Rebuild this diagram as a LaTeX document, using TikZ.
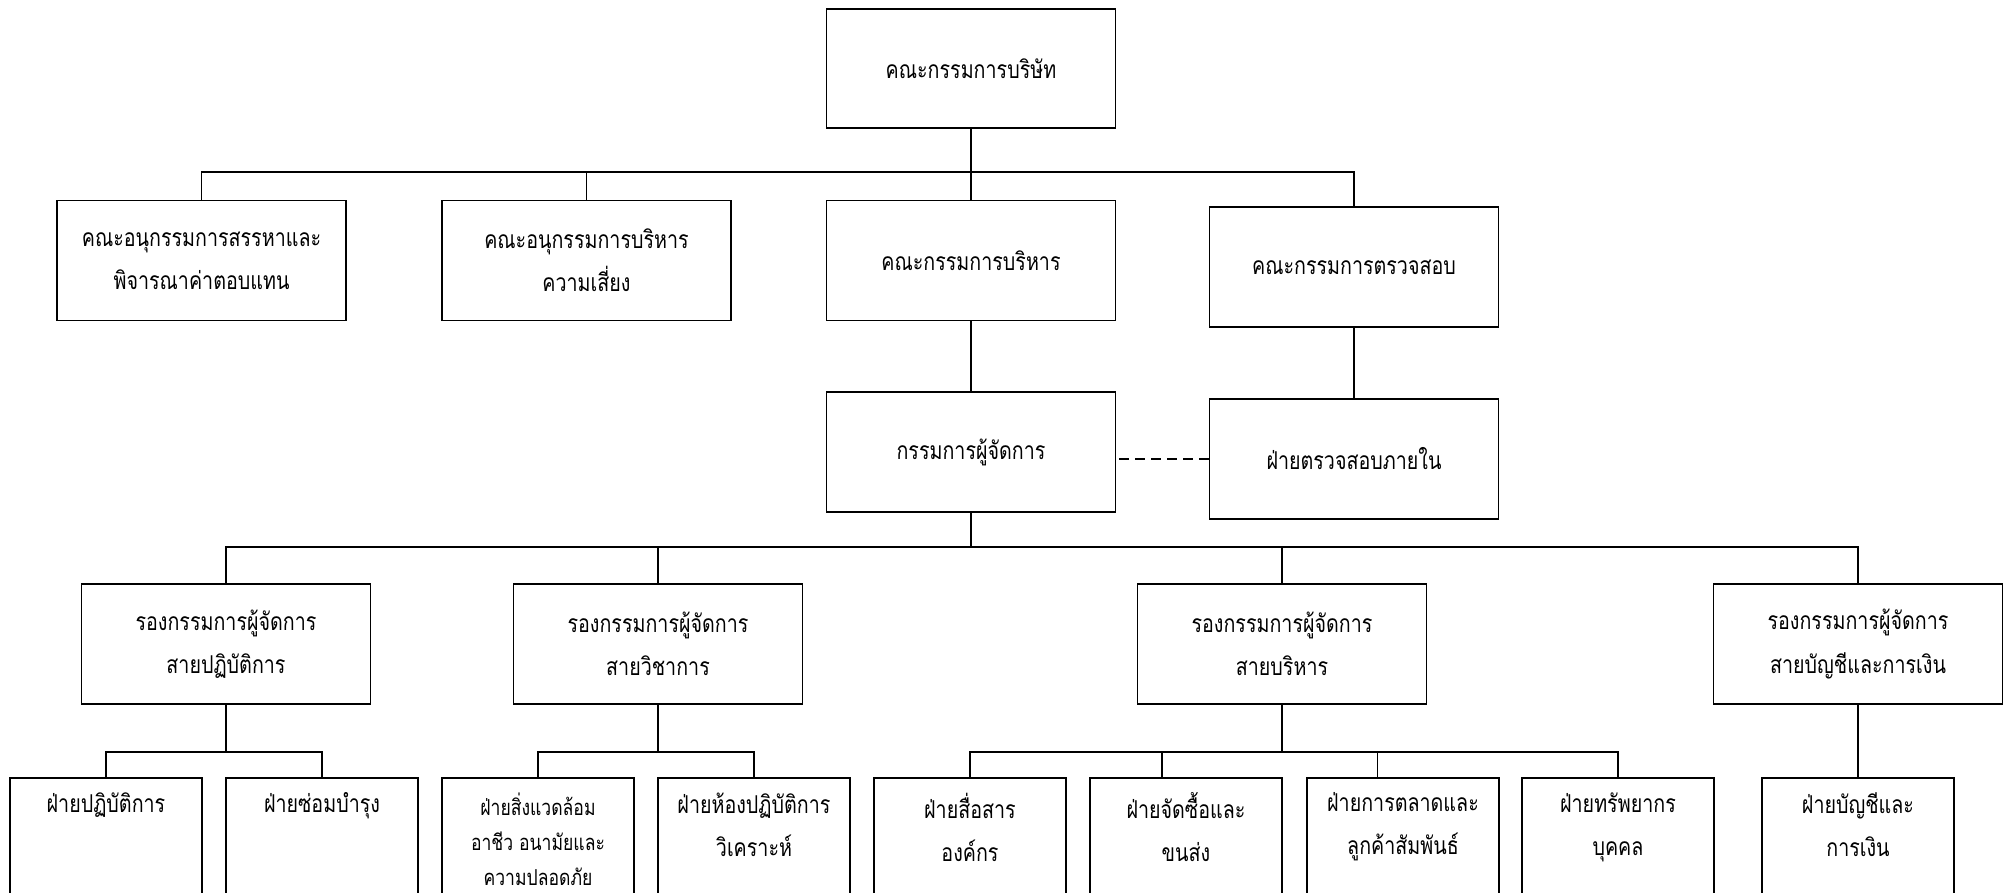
\documentclass[tikz,border=0pt]{standalone}
\usepackage{fontspec}
\setmainfont{Loma}[Script=Thai, FakeStretch=0.8]

\tikzset{
    orgbox/.style={draw, line width=0.9pt, minimum width=5.78cm, minimum height=2.4cm,
        align=center, inner sep=2pt, font=\fontsize{14}{24.5}\selectfont},
    leafbox/.style={draw, line width=0.9pt, minimum width=3.84cm, anchor=north,
        align=center, inner xsep=2pt, inner ysep=0.3cm, text depth=4cm,
        font=\fontsize{14}{24.5}\selectfont},
    link/.style={line width=0.6pt},
}

\begin{document}
\begin{tikzpicture}[x=0.02cm, y=-0.02cm]
    % Page: 2006 x 893 px, 1 px = 0.02 cm, y runs downwards
    \clip (0,0) rectangle (2006,893);

    % Board and committees
    \node[orgbox, minimum height=2.38cm] (board) at (971, 68.5) {คณะกรรมการบริษัท};
    \node[orgbox] (nom)   at (201.5, 260.5) {คณะอนุกรรมการสรรหาและ\\พิจารณาค่าตอบแทน};
    \node[orgbox] (risk)  at (586.5, 260.5) {คณะอนุกรรมการบริหาร\\ความเสี่ยง};
    \node[orgbox] (exec)  at (971, 260.5)   {คณะกรรมการบริหาร};
    \node[orgbox] (audit) at (1354, 267)    {คณะกรรมการตรวจสอบ};

    % Managing director and internal audit
    \node[orgbox] (md) at (971, 452)  {กรรมการผู้จัดการ};
    \node[orgbox] (ia) at (1354, 459) {ฝ่ายตรวจสอบภายใน};

    % Deputy managing directors
    \node[orgbox] (vp1) at (226, 644)  {รองกรรมการผู้จัดการ\\สายปฏิบัติการ};
    \node[orgbox] (vp2) at (658, 644)  {รองกรรมการผู้จัดการ\\สายวิชาการ};
    \node[orgbox] (vp3) at (1282, 644) {รองกรรมการผู้จัดการ\\สายบริหาร};
    \node[orgbox] (vp4) at (1858, 644) {รองกรรมการผู้จัดการ\\สายบัญชีและการเงิน};

    % Departments (cut off by the bottom edge)
    \node[leafbox] (l1) at (106, 777)  {ฝ่ายปฏิบัติการ};
    \node[leafbox] (l2) at (322, 777)  {ฝ่ายซ่อมบำรุง};
    \node[leafbox, font=\fontsize{12.5}{20}\selectfont] (l3) at (538, 777)
        {ฝ่ายสิ่งแวดล้อม\\อาชีว อนามัยและ\\ความปลอดภัย};
    \node[leafbox] (l4) at (754, 777)  {ฝ่ายห้องปฏิบัติการ\\วิเคราะห์};
    \node[leafbox] (l5) at (970, 777)  {ฝ่ายสื่อสาร\\องค์กร};
    \node[leafbox] (l6) at (1186, 777) {ฝ่ายจัดซื้อและ\\ขนส่ง};
    \node[leafbox] (l7) at (1403, 777) {ฝ่ายการตลาดและ\\ลูกค้าสัมพันธ์};
    \node[leafbox] (l8) at (1618, 777) {ฝ่ายทรัพยากร\\บุคคล};
    \node[leafbox] (l9) at (1858, 777) {ฝ่ายบัญชีและ\\การเงิน};

    % Bus lines
    \coordinate (busA) at (971, 172);
    \coordinate (busB) at (971, 547);
    \coordinate (busC) at (0, 752);

    % Board to committees
    \draw[link] (board.south) -- (exec.north);
    \draw[link] (nom.north) |- (busA) -| (audit.north);
    \draw[link] (risk.north) -- (risk.north |- busA);

    % Committees to MD / internal audit
    \draw[link] (exec.south) -- (md.north);
    \draw[link] (audit.south) -- (ia.north);
    \draw[link, dash pattern=on 0.2cm off 0.12cm] (ia.west) -- (ia.west -| md.east);

    % MD to deputies
    \draw[link] (md.south) -- (busB);
    \draw[link] (vp1.north) |- (busB) -| (vp4.north);
    \foreach \v in {vp2, vp3} \draw[link] (\v.north) -- (\v.north |- busB);

    % Deputies to departments
    \foreach \v/\a/\b in {vp1/l1/l2, vp2/l3/l4} {
        \draw[link] (\v.south) -- (\v.south |- busC);
        \draw[link] (\a.north) |- (\b.north |- busC) -- (\b.north);
    }
    \coordinate (t6) at ([xshift=-0.48cm]l6.north);
    \coordinate (t7) at ([xshift=-0.51cm]l7.north);
    \draw[link] (vp3.south) -- (vp3.south |- busC);
    \draw[link] (l5.north) |- (l8.north |- busC) -- (l8.north);
    \foreach \t in {t6, t7} \draw[link] (\t) -- (\t |- busC);
    \draw[link] (vp4.south) -- (l9.north);

\end{tikzpicture}
\end{document}
